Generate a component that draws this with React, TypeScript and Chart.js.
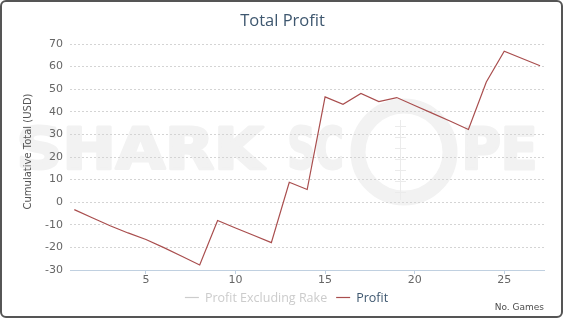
import React, { useEffect, useRef } from "react";
import { Chart, registerables } from "chart.js";

Chart.register(...registerables);

const games = [1, 2, 3, 4, 5, 6, 7, 8, 9, 10, 11, 12, 13, 14, 15, 16, 17, 18, 19, 20, 21, 22, 23, 24, 25, 26, 27];
const profit = [
  -3.3, -6.9, -10.4, -13.6, -16.5, -20.1, -23.9, -27.8, -8.1, -11.4, -14.6, -17.9, 8.8, 5.6,
  46.6, 43.3, 48.1, 44.5, 46.3, 42.8, 39.3, 35.8, 32.2, 53.2, 66.8, 63.6, 60.4,
];
const profitExclRake: number[] = [];
const yTicks = [-30, -20, -10, 0, 10, 20, 30, 40, 50, 60, 70];
const xTicks = [5, 10, 15, 20, 25];
const titleText = "Total Profit";
const yTitle = "Cumulative Total (USD)";
const xTitle = "No. Games";
const legendLabels = ["Profit Excluding Rake", "Profit"];

const PROFIT_COLOR = "#A94E4E";

function drawStretched(ctx: CanvasRenderingContext2D, text: string, x0: number, x1: number, baseline: number) {
  const w = ctx.measureText(text).width;
  ctx.save();
  ctx.translate(x0 + 1.5, baseline - 1.5);
  ctx.scale((x1 - x0 - 3) / w, 1);
  ctx.fillText(text, 0, 0);
  ctx.strokeText(text, 0, 0);
  ctx.restore();
}

const decorPlugin = {
  id: "decor",
  beforeDraw(chart: any) {
    const ctx: CanvasRenderingContext2D = chart.ctx;
    ctx.save();
    ctx.fillStyle = "#ffffff";
    ctx.fillRect(0, 0, chart.width, chart.height);
    // watermark
    ctx.fillStyle = "#f2f2f2";
    ctx.strokeStyle = "#f2f2f2";
    ctx.lineWidth = 3;
    ctx.lineJoin = "round";
    ctx.font = "bold 57px 'DejaVu Sans'";
    ctx.textAlign = "left";
    ctx.textBaseline = "alphabetic";
    drawStretched(ctx, "SHARK", 15, 265, 170);
    drawStretched(ctx, "SC", 286, 345, 170);
    drawStretched(ctx, "PE", 460, 539, 170);
    ctx.lineWidth = 15;
    ctx.beginPath();
    ctx.arc(404, 152, 46, 0, Math.PI * 2);
    ctx.stroke();
    ctx.strokeStyle = "#ebebeb";
    ctx.lineWidth = 1;
    ctx.beginPath();
    ctx.moveTo(400.5, 120);
    ctx.lineTo(400.5, 200);
    ctx.stroke();
    for (let i = 0; i < 7; i++) {
      const yy = 126 + i * 11 + 0.5;
      ctx.beginPath();
      ctx.moveTo(395, yy);
      ctx.lineTo(406, yy);
      ctx.stroke();
    }
    ctx.restore();
  },
  afterDraw(chart: any) {
    const ctx: CanvasRenderingContext2D = chart.ctx;
    ctx.save();
    // border
    ctx.strokeStyle = "#555555";
    ctx.lineWidth = 2;
    ctx.beginPath();
    (ctx as any).roundRect(1, 1, 561, 316, 5);
    ctx.stroke();

    // title
    ctx.fillStyle = "#3E576F";
    ctx.font = "16.5px 'Open Sans'";
    ctx.textAlign = "center";
    ctx.textBaseline = "alphabetic";
    ctx.fillText(titleText, 282.5, 25.5);

    // y title
    ctx.save();
    ctx.translate(28.5, 151.5);
    ctx.rotate(-Math.PI / 2);
    ctx.fillStyle = "#555555";
    ctx.font = "10px 'DejaVu Sans'";
    ctx.textAlign = "center";
    ctx.textBaseline = "middle";
    ctx.fillText(yTitle, 0, 0);
    ctx.restore();

    // x title
    ctx.fillStyle = "#4d4d4d";
    ctx.font = "9px 'DejaVu Sans'";
    ctx.textAlign = "right";
    ctx.textBaseline = "alphabetic";
    ctx.fillText(xTitle, 544, 309.5);

    // legend
    ctx.font = "12.5px 'Open Sans'";
    ctx.textAlign = "left";
    const symW = 14, gapS = 6, gapI = 9;
    const w0 = ctx.measureText(legendLabels[0]).width;
    const w1 = ctx.measureText(legendLabels[1]).width;
    const total = symW + gapS + w0 + gapI + symW + gapS + w1;
    let x = 286.5 - total / 2;
    const ly = 297.5;
    const base = 301.7;
    const items = [
      { label: legendLabels[0], line: "#cccccc", text: "#cccccc", w: w0 },
      { label: legendLabels[1], line: PROFIT_COLOR, text: "#3E576F", w: w1 },
    ];
    items.forEach((it) => {
      ctx.strokeStyle = it.line;
      ctx.lineWidth = 1.2;
      ctx.beginPath();
      ctx.moveTo(x, ly);
      ctx.lineTo(x + symW, ly);
      ctx.stroke();
      ctx.fillStyle = it.text;
      ctx.fillText(it.label, x + symW + gapS, base);
      x += symW + gapS + it.w + gapI;
    });
    ctx.restore();
  },
};

export default function App() {
  const ref = useRef<HTMLCanvasElement | null>(null);
  useEffect(() => {
    if (!ref.current) return;
    const chart = new Chart(ref.current, {
      type: "line",
      data: {
        datasets: [
          {
            label: legendLabels[0],
            data: profitExclRake,
            hidden: true,
            borderColor: "#4572A7",
          },
          {
            label: legendLabels[1],
            data: games.map((g, i) => ({ x: g, y: profit[i] })),
            borderColor: PROFIT_COLOR,
            borderWidth: 1.2,
            pointRadius: 0,
            tension: 0,
            fill: false,
          },
        ],
      },
      options: {
        animation: false,
        responsive: false,
        devicePixelRatio: 1,
        layout: { padding: { top: 44, left: 0, right: 20, bottom: 0 } },
        plugins: {
          legend: { display: false },
          title: { display: false },
          tooltip: { enabled: false },
        },
        scales: {
          x: {
            type: "linear",
            min: 0.76,
            max: 27.22,
            afterFit: (s: any) => {
              s.height = 50;
            },
            afterBuildTicks: (s: any) => {
              s.ticks = xTicks.map((v) => ({ value: v }));
            },
            grid: {
              display: true,
              drawOnChartArea: false,
              drawTicks: true,
              tickLength: 4,
              color: "#C0D0E0",
            },
            border: { display: true, color: "#C0D0E0", width: 1 },
            ticks: {
              padding: 0,
              color: "#666666",
              font: { family: "'DejaVu Sans'", size: 11 },
              maxRotation: 0,
            },
          },
          y: {
            type: "linear",
            min: -30,
            max: 70,
            afterFit: (s: any) => {
              s.width = 70;
            },
            afterBuildTicks: (s: any) => {
              s.ticks = yTicks.map((v) => ({ value: v }));
            },
            grid: {
              drawTicks: false,
              color: (c: any) => (c.tick && c.tick.value === -30 ? "rgba(0,0,0,0)" : "#d4d4d4"),
              lineWidth: 1,
            },
            border: { display: false, dash: [2, 2] },
            ticks: {
              padding: 7,
              color: "#666666",
              font: { family: "'DejaVu Sans'", size: 11 },
            },
          },
        },
      },
      plugins: [decorPlugin],
    });
    return () => chart.destroy();
  }, []);
  return (
    <div style={{ position: "absolute", left: 0, top: 0, width: 564, height: 320 }}>
      <canvas ref={ref} width={564} height={320} style={{ display: "block" }} />
    </div>
  );
}
